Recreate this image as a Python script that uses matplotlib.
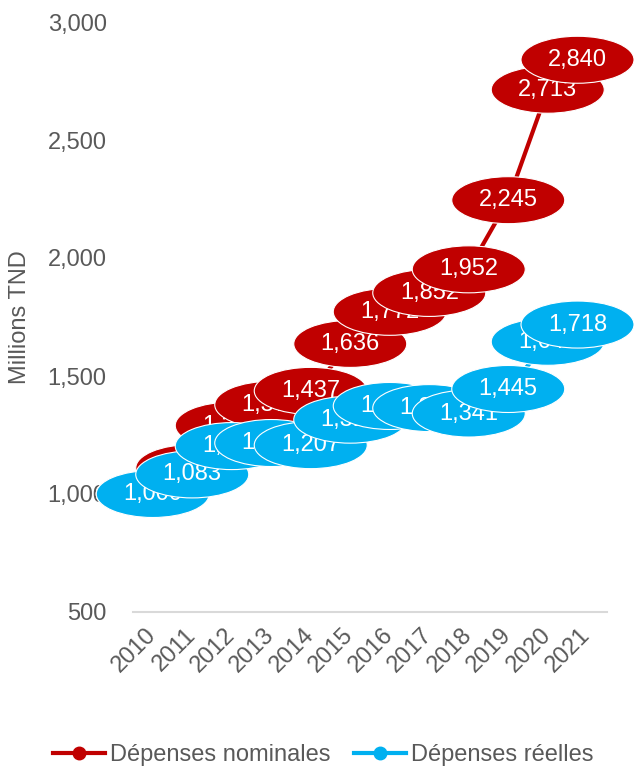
import numpy as np
import matplotlib
matplotlib.use('Agg')
import matplotlib.pyplot as plt
from matplotlib.patches import Ellipse
from matplotlib.lines import Line2D

plt.rcParams['font.family'] = ['Liberation Sans', 'DejaVu Sans']

# Data
years = ['2010', '2011', '2012', '2013', '2014', '2015', '2016', '2017', '2018', '2019', '2020', '2021']
nominal = [1000, 1110, 1290, 1378, 1437, 1636, 1772, 1852, 1952, 2245, 2713, 2840]
real = [1000, 1083, 1203, 1216, 1207, 1315, 1373, 1364, 1341, 1445, 1645, 1718]

red = '#C00000'
blue = '#00B0F0'
grey = '#595959'

dpi = 100
fig = plt.figure(figsize=(6.34, 7.71), dpi=dpi)
ax = fig.add_axes([133/634, 1 - 612/771, 474/634, 590/771])

x = np.arange(len(years))
ax.set_xlim(-0.5, len(years) - 0.5)
ax.set_ylim(500, 3000)

ax.plot(x, nominal, color=red, lw=3, marker='o', ms=7, zorder=2)
ax.plot(x, real, color=blue, lw=3, marker='o', ms=7, zorder=2)

# ellipse label size in pixels -> data units
ell_w_px, ell_h_px = 113, 47
fig_w_px = fig.get_figwidth() * dpi
ax_w_px = fig_w_px * ax.get_position().width
ax_h_px = fig.get_figheight() * dpi * ax.get_position().height
px_x = len(years) / ax_w_px
ell_w = ell_w_px * px_x
ell_h = ell_h_px * 2500 / ax_h_px
# labels are kept inside the figure, like Excel does
x_max = -0.5 + (fig_w_px - ax.get_position().x0 * fig_w_px - ell_w_px / 2) * px_x

z = 10
for vals, col in [(nominal, red), (real, blue)]:
    for xi, v in zip(x, vals):
        cx = min(xi, x_max)
        e = Ellipse((cx, v), ell_w, ell_h, facecolor=col, edgecolor='white',
                    lw=0.8, zorder=z, clip_on=False)
        ax.add_patch(e)
        ax.text(cx, v, f'{v:,}', color='white', fontsize=17, ha='center',
                va='center', zorder=z + 1, clip_on=False)
        z += 2

for s in ['top', 'right', 'left']:
    ax.spines[s].set_visible(False)
ax.spines['bottom'].set_color('#D9D9D9')
ax.spines['bottom'].set_linewidth(1.5)

ax.set_yticks([500, 1000, 1500, 2000, 2500, 3000])
ax.set_yticklabels([f'{t:,}' for t in [500, 1000, 1500, 2000, 2500, 3000]])
ax.tick_params(axis='y', length=0, pad=19, labelsize=17, labelcolor=grey)
ax.set_xticks(x)
ax.set_xticklabels(years, rotation=45, ha='right', va='center', rotation_mode='anchor')
ax.tick_params(axis='x', length=0, pad=14, labelsize=17, labelcolor=grey)

ax.set_ylabel('Millions TND', fontsize=17, color=grey)
ax.yaxis.set_label_coords(-0.215, 0.5)

handles = [
    Line2D([], [], color=red, lw=3, marker='o', ms=9),
    Line2D([], [], color=blue, lw=3, marker='o', ms=9),
]
fig.legend(handles, ['Dépenses nominales', 'Dépenses réelles'], loc='center',
           bbox_to_anchor=(0.51, 0.021), ncol=2, frameon=False, fontsize=17,
           labelcolor=grey, handlelength=2.2, handletextpad=0.2, columnspacing=1.0)

fig.savefig('out.png', dpi=dpi)
